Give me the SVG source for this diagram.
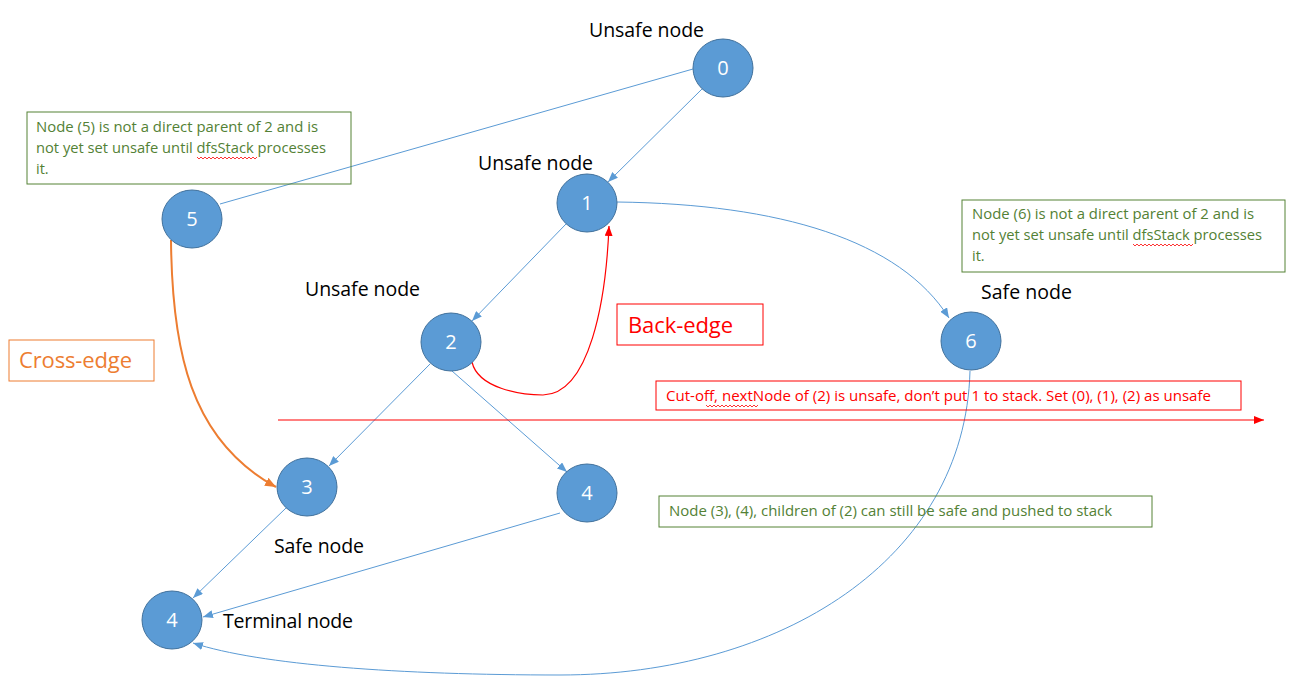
<svg xmlns="http://www.w3.org/2000/svg" width="1300" height="690" viewBox="0 0 1300 690">
<style>
text{font-family:"Open Sans","Noto Sans",sans-serif}
.node ellipse{fill:#5B9BD5;stroke:#41719C;stroke-width:1}
.node text{fill:#fff;font-size:20px;text-anchor:middle}
.lbl{fill:#000;font-size:19.5px}
.edge{fill:none;stroke:#5B9BD5;stroke-width:1}
.gbox{fill:none;stroke:#548235;stroke-width:1}
.gtxt{fill:#538135;font-size:14.5px}
.rbox{fill:none;stroke:#FF0000;stroke-width:1}
.sq{fill:none;stroke:#FF0000;stroke-width:0.8}
</style>
<defs>
<marker id="ab" markerUnits="userSpaceOnUse" markerWidth="10" markerHeight="8" refX="10" refY="4" orient="auto"><path d="M0,0 L10,4 L0,8 z" fill="#5B9BD5"/></marker>
<marker id="ar" markerUnits="userSpaceOnUse" markerWidth="10" markerHeight="8" refX="10" refY="4" orient="auto"><path d="M0,0 L10,4 L0,8 z" fill="#FF0000"/></marker>
<marker id="ao" markerUnits="userSpaceOnUse" markerWidth="11" markerHeight="9" refX="11" refY="4.5" orient="auto"><path d="M0,0 L11,4.5 L0,9 z" fill="#ED7D31"/></marker>
</defs>
<rect width="1300" height="690" fill="#fff"/>

<g id="connectors">
<path class="edge" d="M693,69 L220,204"/>
<path class="edge" d="M702,89 L608,182" marker-end="url(#ab)"/>
<path class="edge" d="M566,224 L472,321" marker-end="url(#ab)"/>
<path class="edge" d="M617,202 C780,204 900,240 949,318" marker-end="url(#ab)"/>
<path d="M472,362 C478,388 520,395 543,395 C590,394 606,300 609,226" fill="none" stroke="#FF0000" stroke-width="1.2" marker-end="url(#ar)"/>
<path class="edge" d="M430,364 L329,466" marker-end="url(#ab)"/>
<path class="edge" d="M452,371 L567,472" marker-end="url(#ab)"/>
<path d="M171,240 C172,350 190,440 276,487" fill="none" stroke="#ED7D31" stroke-width="2" marker-end="url(#ao)"/>
<path class="edge" d="M286,508 L193,598" marker-end="url(#ab)"/>
<path class="edge" d="M560,513 L203,617" marker-end="url(#ab)"/>
<path class="edge" d="M970,371 C965,560 780,675 560,675 C400,675 260,665 193,643" marker-end="url(#ab)"/>
<path d="M278,420 L1264,420" fill="none" stroke="#FF0000" stroke-width="1.2" marker-end="url(#ar)"/>
</g>

<g id="node0" class="node"><ellipse cx="723" cy="68" rx="30" ry="29"/><text x="723" y="75">0</text></g>
<g id="node1" class="node"><ellipse cx="587" cy="203" rx="30" ry="29"/><text x="587" y="210">1</text></g>
<g id="node2" class="node"><ellipse cx="451" cy="342" rx="30" ry="29"/><text x="451" y="349">2</text></g>
<g id="node5" class="node"><ellipse cx="192" cy="219" rx="30" ry="29"/><text x="192" y="226">5</text></g>
<g id="node3" class="node"><ellipse cx="307" cy="487" rx="30" ry="29"/><text x="307" y="494">3</text></g>
<g id="node4" class="node"><ellipse cx="587" cy="493" rx="30" ry="29"/><text x="587" y="500">4</text></g>
<g id="node6" class="node"><ellipse cx="971" cy="341" rx="30" ry="29"/><text x="971" y="348">6</text></g>
<g id="node4t" class="node"><ellipse cx="172" cy="620" rx="30" ry="29"/><text x="172" y="627">4</text></g>

<g id="labels">
<text class="lbl" x="589" y="37" textLength="115">Unsafe node</text>
<text class="lbl" x="478" y="170" textLength="115">Unsafe node</text>
<text class="lbl" x="305" y="296" textLength="115">Unsafe node</text>
<text class="lbl" x="981" y="299" textLength="91">Safe node</text>
<text class="lbl" x="274" y="553" textLength="90">Safe node</text>
<text class="lbl" x="223" y="628" textLength="130">Terminal node</text>
</g>

<g id="note5">
<rect class="gbox" x="27" y="112" width="324" height="72"/>
<text class="gtxt" x="36" y="132" textLength="282" lengthAdjust="spacingAndGlyphs">Node (5) is not a direct parent of 2 and is</text>
<text class="gtxt" x="36" y="153" textLength="290" lengthAdjust="spacingAndGlyphs">not yet set unsafe until dfsStack processes</text>
<text class="gtxt" x="36" y="174">it.</text>
<path class="sq" d="M197,157 l2,2 l2,-2 l2,2 l2,-2 l2,2 l2,-2 l2,2 l2,-2 l2,2 l2,-2 l2,2 l2,-2 l2,2 l2,-2 l2,2 l2,-2 l2,2 l2,-2 l2,2 l2,-2 l2,2 l2,-2 l2,2 l2,-2 l2,2 l2,-2 l2,2 l2,-2 l2,2 l2,-2"/>
</g>

<g id="note6">
<rect class="gbox" x="962" y="200" width="323" height="72"/>
<text class="gtxt" x="972" y="219" textLength="282" lengthAdjust="spacingAndGlyphs">Node (6) is not a direct parent of 2 and is</text>
<text class="gtxt" x="972" y="240" textLength="290" lengthAdjust="spacingAndGlyphs">not yet set unsafe until dfsStack processes</text>
<text class="gtxt" x="972" y="261">it.</text>
<path class="sq" d="M1133,244 l2,2 l2,-2 l2,2 l2,-2 l2,2 l2,-2 l2,2 l2,-2 l2,2 l2,-2 l2,2 l2,-2 l2,2 l2,-2 l2,2 l2,-2 l2,2 l2,-2 l2,2 l2,-2 l2,2 l2,-2 l2,2 l2,-2 l2,2 l2,-2 l2,2 l2,-2 l2,2 l2,-2"/>
</g>

<g id="backedge">
<rect class="rbox" x="617" y="304" width="146" height="41"/>
<text x="628" y="333" fill="#FF0000" font-size="22" textLength="105">Back-edge</text>
</g>

<g id="crossedge">
<rect x="9" y="340" width="145" height="41" fill="none" stroke="#ED7D31" stroke-width="1"/>
<text x="19" y="368" fill="#ED7D31" font-size="22" textLength="113">Cross-edge</text>
</g>

<g id="cutoff">
<rect class="rbox" x="656" y="381" width="585" height="29"/>
<text x="666" y="401" fill="#FF0000" font-size="14.5" textLength="545" lengthAdjust="spacingAndGlyphs">Cut-off, nextNode of (2) is unsafe, don’t put 1 to stack. Set (0), (1), (2) as unsafe</text>
<path class="sq" d="M706,405 l2,2 l2,-2 l2,2 l2,-2 l2,2 l2,-2 l2,2 l2,-2 l2,2 l2,-2 l2,2 l2,-2 l2,2 l2,-2 l2,2 l2,-2 l2,2 l2,-2 l2,2 l2,-2 l2,2 l2,-2 l2,2 l2,-2 l2,2 l2,-2"/>
</g>

<g id="note34">
<rect class="gbox" x="659" y="496" width="493" height="31"/>
<text class="gtxt" x="669" y="516" textLength="443" lengthAdjust="spacingAndGlyphs">Node (3), (4), children of (2) can still be safe and pushed to stack</text>
</g>
</svg>
